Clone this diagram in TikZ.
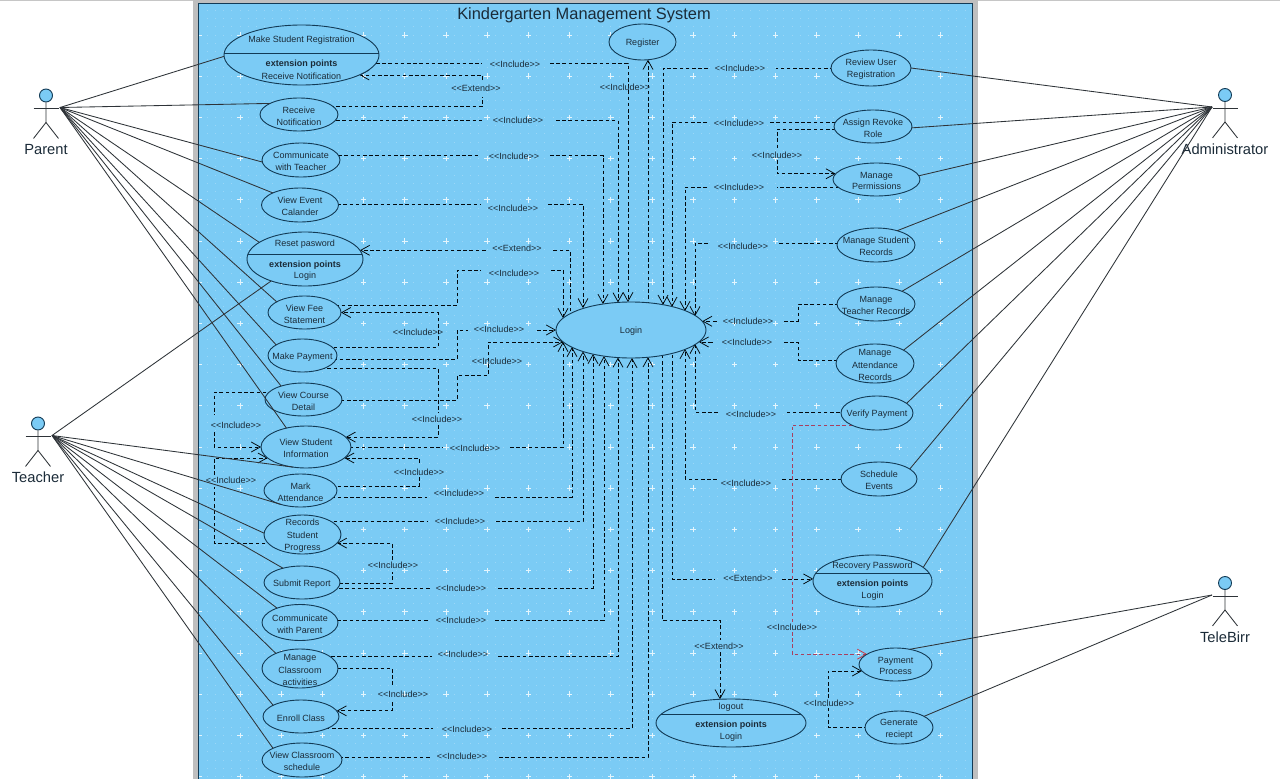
\documentclass[tikz,border=0pt]{standalone}
\usepackage{fontspec}
\setmainfont{Liberation Sans}
\usetikzlibrary{arrows.meta,shapes.geometric}
\definecolor{sysfill}{HTML}{7BCBF5}
\definecolor{sysdot}{HTML}{9AD7F8}
\definecolor{syscross}{HTML}{E4F5FD}
\definecolor{ucline}{HTML}{123A55}
\definecolor{inktext}{HTML}{1B2B38}
\definecolor{actline}{HTML}{2E3338}
\definecolor{redline}{HTML}{A8405F}
\definecolor{redtip}{HTML}{D0353F}
\pgfdeclarelayer{gridlayer}
\pgfdeclarelayer{conn}
\pgfsetlayers{gridlayer,conn,main}
\tikzset{
  ucshape/.style={ellipse,draw=ucline,fill=sysfill,line width=.9pt,inner sep=0pt,outer sep=0pt},
  uctext/.style={text=inktext,font=\fontsize{9}{11.8}\selectfont,align=center,inner sep=0pt},
  lab/.style={text=inktext,font=\fontsize{9}{11}\selectfont,inner sep=0pt,yshift=-.5pt},
  dep/.style={draw=black!85!ucline,line width=.75pt,dash pattern=on 3.6pt off 2.6pt},
  deptip/.style={dep,-{Straight Barb[length=9pt,width=10pt,line width=.75pt]}},
  assoc/.style={draw=actline,line width=.85pt},
  actortext/.style={text=inktext,font=\fontsize{14.7}{16}\selectfont,inner sep=0pt}
}
\newcommand\inc{<{}<Include>{}>}
\newcommand\ext{<{}<Extend>{}>}
\newcommand\uc[6]{%
  \node[ucshape,minimum width=2*#4pt,minimum height=2*#5pt] (#1) at (#2,#3) {};
  \node[uctext] (#1-t) at (#2,#3+1.5) {#6};}
% name,cx,cy,rx,ry,liney,title,titley,bold y,point text
\newcommand\ucx[9]{%
  \node[ucshape,minimum width=2*#4pt,minimum height=2*#5pt] (#1) at (#2,#3) {};
  \begin{scope}
    \clip (#2,#3) ellipse (#4pt and #5pt);
    \draw[draw=ucline,line width=.9pt] (#2-#4,#6) -- (#2+#4,#6);
  \end{scope}
  \node[uctext] (#1-t) at (#2,#8+1) {#7};
  \node[uctext,font=\fontsize{9}{11}\selectfont\bfseries] (#1-e) at (#2,#9+.6) {extension points};
  \ucxtail{#1}{#2}{#9}}
\newcommand\ucxtail[4]{\node[uctext] (#1-p) at (#2,#3+12) {#4};}
\newcommand\actor[4]{%
  \node[circle,draw=ucline,fill=sysfill,line width=.9pt,minimum size=13pt,inner sep=0pt] (#1-head) at (#2,#3) {};
  \coordinate (#1-l) at (#2-13,#3+12);
  \coordinate (#1-r) at (#2+14,#3+12);
  \draw[assoc] (#1-head.south) -- ++(0,20) coordinate (#1-hip) -- ++(-12.5,16);
  \draw[assoc] (#1-hip) -- ++(12.5,16);
  \draw[assoc] (#2-12.5,#3+13) -- (#2+13,#3+13);
  \node[actortext] (#1-n) at (#2,#3+54) {#4};}
\begin{document}
\begin{tikzpicture}[x=1pt,y=-1pt]
\useasboundingbox (0,0) rectangle (1280,779);
\begin{pgfonlayer}{gridlayer}
  \fill[white] (0,0) rectangle (1280,779);
  \fill[gray!45] (0,0) rectangle (1280,1.2);
  \fill[gray!50] (193,0) rectangle (978,779);
  \fill[sysfill] (198,3) rectangle (972,779);
  \begin{scope}
    \clip (198,3) rectangle (972,779);
    \foreach \r in {0,...,94}
      \draw[sysdot,line width=1pt,dash pattern=on 1pt off 7.24pt] (198.3,2.04+8.24*\r) -- (972,2.04+8.24*\r);
    \foreach \i in {-1,0,...,17}
      \foreach \j in {0,...,18}
        \draw[syscross,line width=.9pt] (240+41.2*\i-2.8,35+41.2*\j) -- ++(5.6,0) (240+41.2*\i,35+41.2*\j-2.8) -- ++(0,5.6);
  \end{scope}
  \draw[draw=ucline,line width=1pt] (198,779) -- (198,3) -- (972,3) -- (972,779);
\end{pgfonlayer}

\node[text=inktext,font=\fontsize{16.4}{18}\selectfont,inner sep=0pt] (title) at (584,15) {Kindergarten Management System};

% use cases, left column
\ucx{msr}{301.5}{55}{77.5}{30}{53}{Make Student Registration}{39}{64}{Receive Notification}
\uc{rn}{299}{114.5}{39}{16.5}{Receive\\Notification}
\uc{ct}{301}{160}{39}{17}{Communicate\\with Teacher}
\uc{ve}{300}{205}{38.5}{17}{View Event\\Calander}
\ucx{rp}{305}{259}{58}{27}{254.5}{Reset pasword}{243}{264.5}{Login}
\uc{vf}{304.5}{312.5}{36.5}{16.5}{View Fee\\Statement}
\uc{mp}{302.5}{355.5}{34.5}{16.5}{Make Payment}
\uc{vc}{303.5}{399.5}{38.5}{16.5}{View Course\\Detail}
\uc{vs}{306}{447}{45}{21}{View Student\\Information}
\uc{ma}{300.5}{490.5}{36.5}{16.5}{Mark\\Attendance}
\uc{rs}{302.5}{534.5}{38.5}{19.5}{Records\\[.6pt]Student\\[.6pt]Progress}
\uc{sr}{302}{582.5}{38}{16.5}{Submit Report}
\uc{cp}{300}{622.5}{38}{18}{Communicate\\with Parent}
\uc{mc}{300}{668.5}{38}{19.5}{Manage\\[.6pt]Classroom\\[.6pt]activities}
\uc{ec}{301}{716.5}{38}{16.5}{Enroll Class}
\uc{vl}{302}{760}{40}{17}{View Classroom\\schedule}
% centre
\uc{login}{631}{330}{75}{28}{Login}
\uc{reg}{642.5}{42}{33.5}{18}{Register}
\ucx{lo}{731}{723}{75}{24}{714}{logout}{706.5}{725}{Login}
% right column
\uc{ru}{871}{68}{40}{18}{Review User\\Registration}
\uc{ar}{873}{126.5}{39}{16.5}{Assign Revoke\\Role}
\uc{pe}{876.5}{179.5}{43.5}{16.5}{Manage\\Permissions}
\uc{st}{876}{245}{39}{17}{Manage Student\\Records}
\uc{te}{876}{304}{39}{17}{Manage\\Teacher Records}
\uc{at}{875}{363.5}{39}{19.5}{Manage\\[.6pt]Attendance\\[.6pt]Records}
\uc{vp}{877}{413}{36}{17}{Verify Payment}
\uc{se}{879}{479}{38}{17}{Schedule\\Events}
\ucx{rc}{872.5}{581}{59.5}{26}{573.5}{Recovery Password}{565}{584}{Login}
\uc{pp}{895.5}{664.5}{36.5}{16.5}{Payment\\Process}
\uc{gr}{899}{727.5}{34}{16.5}{Generate\\reciept}

% actors
\actor{parent}{46}{95.5}{Parent}
\actor{teacher}{38}{423.5}{Teacher}
\actor{admin}{1225}{95}{Administrator}
\actor{tele}{1225}{583}{TeleBirr}

% associations
\foreach \n/\a in {msr/181,rn/159,ct/183,ve/156,rp/160.5,vf/159,mp/158,vc/149,vs/136}
  \draw[assoc] (parent-r) -- (\n.\a);
\foreach \n/\a in {rp/213,vs/237,ma/215,rs/178,sr/143,cp/148,mc/148,ec/158,vl/158}
  \draw[assoc] (teacher-r) -- (\n.\a);
\foreach \n/\a in {ru/0,ar/-2,pe/5,st/34,te/26,at/25,vp/18,se/18,rc/15.5}
  \draw[assoc] (admin-l) -- (\n.\a);
\foreach \n/\a in {pp/47,gr/24}
  \draw[assoc] (tele-l) -- (\n.\a);

% dependencies (start inside the source ellipse, hidden by its fill)
\begin{pgfonlayer}{conn}
  % left side to Login, top
  \draw[dep] (msr |- 0,63) -- (482,63);
  \draw[deptip] (550,63) -- (628,63) -- (628,0 |- login.96.1);
  \draw[dep] (rn |- 0,120.5) -- (485,120.5);
  \draw[deptip] (556,120.5) -- (618,120.5) -- (618,0 |- login.115.2);
  \draw[dep] (ct |- 0,155.5) -- (480,155.5);
  \draw[deptip] (550,155.5) -- (603,155.5) -- (603,0 |- login.137.1);
  \draw[dep] (ve |- 0,204) -- (480,204);
  \draw[deptip] (548,204) -- (583,204) -- (583,0 |- login.155.9);
  % Reset extend
  \draw[dep] (login.center -| 570,0) -- (570,250) -- (551,250);
  \draw[deptip] (485,250) -- (485,0 |- rp.9) -- (rp.9);
  % Receive Notification extends Make Student Registration
  \draw[dep] (rn |- 0,106.7) -- (482,106.7) -- (482,96.7);
  \draw[deptip] (482,80) -- (482,0 |- msr.-19) -- (msr.-19);
  % View Fee
  \draw[dep] (vf |- 0,305) -- (457,305) -- (457,270) -- (481,270);
  \draw[deptip] (551,270) -- (563,270) -- (563,0 |- login.170.2);
  % Make Payment
  \draw[deptip] (mp |- 0,347) -- (438,347) -- (438,0 |- vf.0) -- (vf.0);
  \draw[dep] (mp |- 0,359) -- (457,359) -- (457,330) -- (468,330);
  \draw[deptip] (537,330) -- (login.180);
  \draw[dep] (mp |- 0,368) -- (438,368) -- (438,413);
  \draw[deptip] (438,425) -- (438,0 |- vs.14) -- (vs.14);
  % View Course
  \draw[deptip] (vc |- 0,400) -- (457,400) -- (457,375.5) -- (488,375.5) -- (488,0 |- login.190) -- (login.190);
  \draw[dep] (vc |- 0,392) -- (214,392) -- (214,415);
  \draw[deptip] (214,432) -- (214,447) -- (vs.180);
  % View Student
  \draw[dep] (vs |- 0,447) -- (443,447);
  \draw[deptip] (510,447) -- (563,447) -- (563,0 |- login.190);
  % Mark Attendance
  \draw[dep] (ma |- 0,486) -- (419,486) -- (419,477);
  \draw[deptip] (419,463) -- (419,0 |- vs.-16) -- (vs.-16);
  \draw[dep] (ma |- 0,497) -- (427,497);
  \draw[deptip] (495,497) -- (572,497) -- (572,0 |- login.196.3);
  % Records
  \draw[dep] (rs |- 0,543) -- (214,543) -- (214,487);
  \draw[deptip] (214,475) -- (214,0 |- vs.196) -- (vs.196);
  \draw[dep] (rs |- 0,521) -- (428,521);
  \draw[deptip] (496,521) -- (583,521) -- (583,0 |- login.204.1);
  % Submit
  \draw[dep] (sr |- 0,583) -- (392,583) -- (392,572);
  \draw[deptip] (392,560) -- (392,0 |- rs.-14) -- (rs.-14);
  \draw[dep] (sr |- 0,588) -- (430,588);
  \draw[deptip] (498,588) -- (593,588) -- (593,0 |- login.212.4);
  % Communicate with Parent
  \draw[dep] (cp |- 0,620) -- (430,620);
  \draw[deptip] (495,620) -- (604,620) -- (604,0 |- login.224);
  % Manage Classroom
  \draw[dep] (mc |- 0,656) -- (432,656);
  \draw[deptip] (498,656) -- (618,656) -- (618,0 |- login.244.8);
  \draw[dep] (mc |- 0,668) -- (392,668) -- (392,685);
  \draw[deptip] (392,702) -- (392,0 |- ec.9) -- (ec.9);
  % Enroll
  \draw[dep] (ec |- 0,728) -- (433,728);
  \draw[deptip] (502,728) -- (632,728) -- (632,0 |- login.270);
  % View Classroom schedule
  \draw[dep] (vl |- 0,757) -- (430,757);
  \draw[deptip] (499,757) -- (648,757) -- (648,0 |- login.-58.1);
  % Login to Register
  \draw[deptip] (login.center -| 648,0) -- (648,0 |- reg.-73);
  % Login extends logout / recovery
  \draw[dep] (login.center -| 662,0) -- (662,620) -- (720,620) -- (720,640);
  \draw[deptip] (720,652) -- (720,0 |- lo.115);
  \draw[dep] (login.center -| 672,0) -- (672,579) -- (715,579);
  \draw[deptip] (782,579) -- (782,0 |- rc.178) -- (rc.178);
  % right column to Login
  \draw[dep] (ru |- 0,68) -- (776,68);
  \draw[deptip] (708,68) -- (663,68) -- (663,0 |- login.38.3);
  \draw[dep] (ar |- 0,122) -- (770,122);
  \draw[deptip] (707,122) -- (672,122) -- (672,0 |- login.29.7);
  \draw[dep] (ar |- 0,129) -- (777,129) -- (777,148);
  \draw[deptip] (777,160) -- (777,0 |- pe.172) -- (pe.172);
  \draw[dep] (pe |- 0,187) -- (777,187);
  \draw[deptip] (707,187) -- (685,187) -- (685,0 |- login.19.8);
  \draw[dep] (st |- 0,243) -- (777,243);
  \draw[deptip] (708,243) -- (695,243) -- (695,0 |- login.12.8);
  \draw[dep] (te |- 0,304) -- (798,304) -- (798,321) -- (783,321);
  \draw[deptip] (716,321) -- (716,0 |- login.7) -- (login.7);
  \draw[dep] (at |- 0,360) -- (798,360) -- (798,342) -- (782,342);
  \draw[deptip] (712,342) -- (712,0 |- login.-10) -- (login.-10);
  \draw[dep] (vp |- 0,412) -- (785,412);
  \draw[deptip] (718,412) -- (695,412) -- (695,0 |- login.-12.8);
  \draw[dep] (se |- 0,479) -- (780,479);
  \draw[deptip] (717,479) -- (685,479) -- (685,0 |- login.-19.8);
  % Verify Payment includes Payment Process (selected, red)
  \draw[dep,draw=redline] (vp |- 0,425) -- (792,425) -- (792,622);
  \draw[deptip,draw=redline,-{Straight Barb[length=9pt,width=10pt,line width=.75pt,color=redtip]}] (792,632) -- (792,0 |- pp.160) -- (pp.160);
  % Generate reciept includes Payment Process
  \draw[dep] (gr |- 0,727) -- (828,727) -- (828,708);
  \draw[deptip] (828,698) -- (828,0 |- pp.191) -- (pp.191);
\end{pgfonlayer}

% connector labels
\node[lab] (l01) at (515,63.5) {\inc};
\node[lab] (l02) at (476,88) {\ext};
\node[lab] (l03) at (518,120) {\inc};
\node[lab] (l04) at (514,156) {\inc};
\node[lab] (l05) at (513,207.5) {\inc};
\node[lab] (l06) at (517,248) {\ext};
\node[lab] (l07) at (514,272.5) {\inc};
\node[lab] (l08) at (418,332) {\inc};
\node[lab] (l09) at (499,329) {\inc};
\node[lab] (l10) at (497,360.5) {\inc};
\node[lab] (l11) at (437,419) {\inc};
\node[lab] (l12) at (236,425) {\inc};
\node[lab] (l13) at (475,448) {\inc};
\node[lab] (l14) at (419,472) {\inc};
\node[lab] (l15) at (231,480) {\inc};
\node[lab] (l16) at (459,493) {\inc};
\node[lab] (l17) at (460,521) {\inc};
\node[lab] (l18) at (393,565) {\inc};
\node[lab] (l19) at (461,588) {\inc};
\node[lab] (l20) at (461,620) {\inc};
\node[lab] (l21) at (463,653.5) {\inc};
\node[lab] (l22) at (403,694) {\inc};
\node[lab] (l23) at (467,728.5) {\inc};
\node[lab] (l24) at (462,756) {\inc};
\node[lab] (l25) at (625,86.5) {\inc};
\node[lab] (l26) at (740,68) {\inc};
\node[lab] (l27) at (739,123) {\inc};
\node[lab] (l28) at (777,155) {\inc};
\node[lab] (l29) at (739,186.5) {\inc};
\node[lab] (l30) at (743,245.5) {\inc};
\node[lab] (l31) at (748,321) {\inc};
\node[lab] (l32) at (747,342) {\inc};
\node[lab] (l33) at (751,414) {\inc};
\node[lab] (l34) at (746,483) {\inc};
\node[lab] (l35) at (748,578) {\ext};
\node[lab] (l36) at (719,646) {\ext};
\node[lab] (l37) at (792,627) {\inc};
\node[lab] (l38) at (829,703) {\inc};
\end{tikzpicture}
\end{document}
